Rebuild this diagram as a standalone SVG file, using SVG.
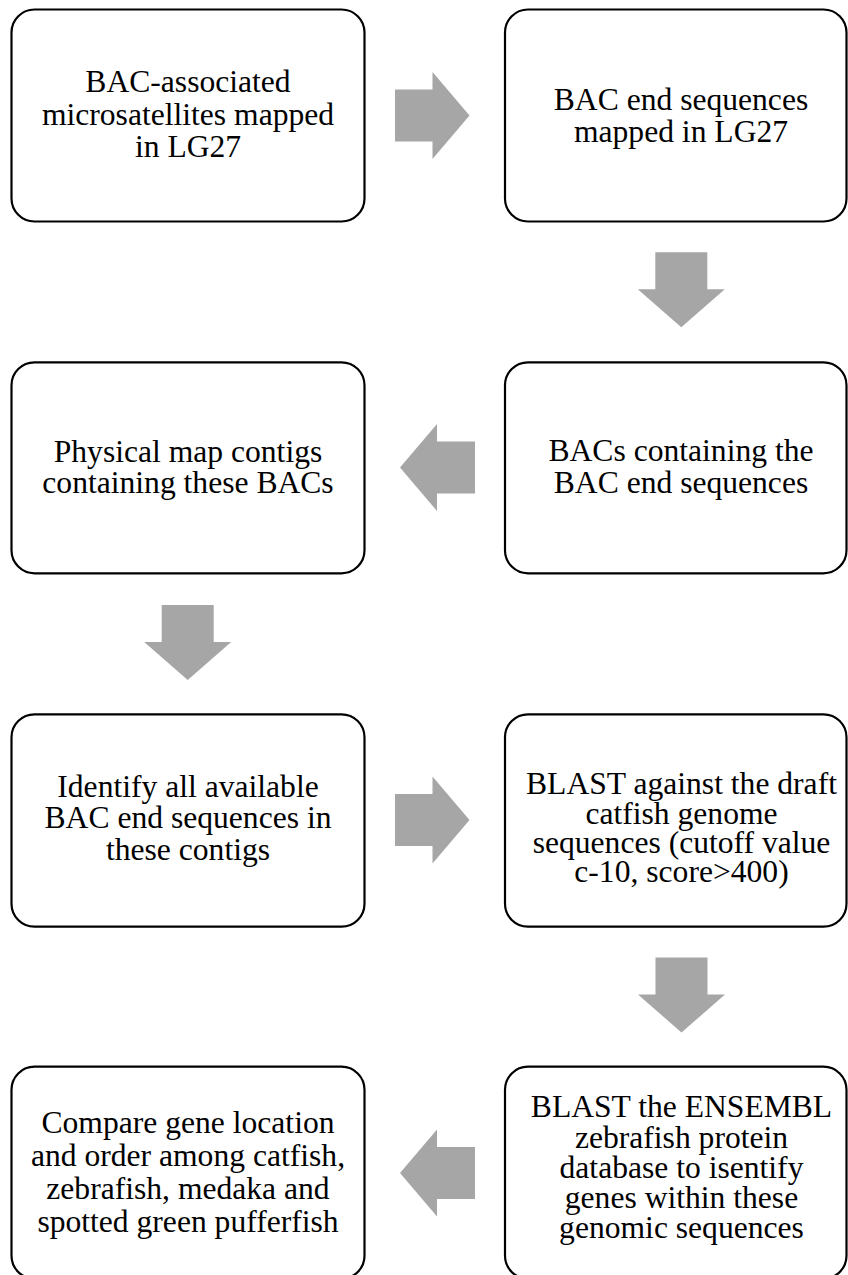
<svg xmlns="http://www.w3.org/2000/svg" width="848" height="1275" viewBox="0 0 848 1275">
<style>
.box{fill:#ffffff;stroke:#000000;stroke-width:2.2}
.t{font-family:"Liberation Serif","Times New Roman",serif;font-size:31.6px;fill:#000000;text-anchor:middle}
.arr{fill:#a6a6a6;stroke:none}
</style>
<rect x="0" y="0" width="848" height="1275" fill="#ffffff"/>
<g id="connectors">
<path class="arr" d="M395,89.5 H432.5 V72 L469.5,115.5 L432.5,159 V141.5 H395 Z"/>
<path class="arr" d="M655.3,252.3 H707.3 V289.3 H724.8 L681.3,327.3 L637.8,289.3 H655.3 Z"/>
<path class="arr" d="M475,441.5 H437 V424 L400,467.5 L437,511 V493.5 H475 Z"/>
<path class="arr" d="M161.7,605 H213.7 V642 H231.2 L187.7,680 L144.2,642 H161.7 Z"/>
<path class="arr" d="M395,794 H432.5 V776.5 L469.5,820 L432.5,863.5 V846 H395 Z"/>
<path class="arr" d="M655.5,957.5 H707.5 V994.5 H725 L681.5,1032.5 L638,994.5 H655.5 Z"/>
<path class="arr" d="M475,1147 H437 V1129.5 L400,1173 L437,1216.5 V1199 H475 Z"/>
</g>
<g id="n1">
<rect class="box" x="11.5" y="9.5" width="353" height="212" rx="23" ry="23"/>
<text class="t" x="188" y="92.3">BAC-associated</text>
<text class="t" x="188" y="124.7">microsatellites mapped</text>
<text class="t" x="188" y="157.3">in LG27</text>
</g>
<g id="n2">
<rect class="box" x="505" y="9.5" width="341.5" height="212" rx="23" ry="23"/>
<text class="t" x="681" y="110">BAC end sequences</text>
<text class="t" x="681" y="141.7">mapped in LG27</text>
</g>
<g id="n3">
<rect class="box" x="505" y="362.3" width="341.5" height="211" rx="23" ry="23"/>
<text class="t" x="681" y="461.3">BACs containing the</text>
<text class="t" x="681" y="492.8">BAC end sequences</text>
</g>
<g id="n4">
<rect class="box" x="11.5" y="362.3" width="353" height="211" rx="23" ry="23"/>
<text class="t" x="188" y="461.7">Physical map contigs</text>
<text class="t" x="188" y="493.3">containing these BACs</text>
</g>
<g id="n5">
<rect class="box" x="11.5" y="714.3" width="353" height="212.4" rx="23" ry="23"/>
<text class="t" x="188" y="796.7">Identify all available</text>
<text class="t" x="188" y="828.3">BAC end sequences in</text>
<text class="t" x="188" y="860">these contigs</text>
</g>
<g id="n6">
<rect class="box" x="505" y="714.3" width="341.5" height="212.4" rx="23" ry="23"/>
<text class="t" x="681.5" y="794.3">BLAST against the draft</text>
<text class="t" x="681.5" y="823.5">catfish genome</text>
<text class="t" x="681.5" y="852.7">sequences (cutoff value</text>
<text class="t" x="681.5" y="881.7">c-10, score&gt;400)</text>
</g>
<g id="n7">
<rect class="box" x="505" y="1066.7" width="341.5" height="212" rx="23" ry="23"/>
<text class="t" x="681.5" y="1117.3">BLAST the ENSEMBL</text>
<text class="t" x="681.5" y="1147.6">zebrafish protein</text>
<text class="t" x="681.5" y="1177.8">database to isentify</text>
<text class="t" x="681.5" y="1208.1">genes within these</text>
<text class="t" x="681.5" y="1238.3">genomic sequences</text>
</g>
<g id="n8">
<rect class="box" x="11.5" y="1066.7" width="353" height="212" rx="23" ry="23"/>
<text class="t" x="188" y="1132.7">Compare gene location</text>
<text class="t" x="188" y="1165.7">and order among catfish,</text>
<text class="t" x="188" y="1198.7">zebrafish, medaka and</text>
<text class="t" x="188" y="1231.7">spotted green pufferfish</text>
</g>
</svg>
